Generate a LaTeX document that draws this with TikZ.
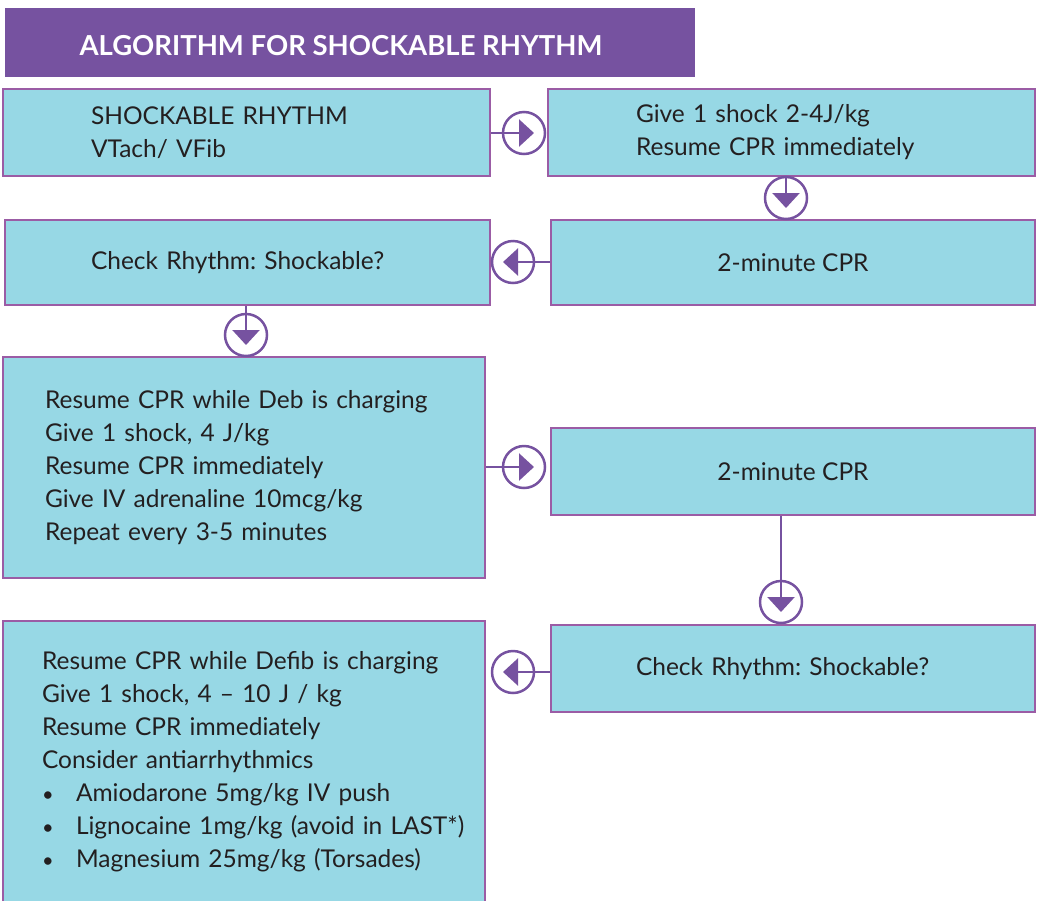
\documentclass[tikz,border=0pt]{standalone}
\usepackage{fontspec}
\setmainfont{Lato}
\frenchspacing
\usetikzlibrary{arrows.meta}
\definecolor{boxblue}{RGB}{151,216,229}
\definecolor{boxedge}{RGB}{155,92,165}
\definecolor{headpurple}{RGB}{118,82,160}
\definecolor{ink}{RGB}{35,31,32}
\newcommand{\dotitem}{\makebox[34pt][l]{\fontsize{20}{33}\selectfont\textbullet}}
\tikzset{
  stepbox/.style={draw=boxedge,fill=boxblue,line width=2pt,text=ink,rectangle,align=left,
    font=\fontsize{24.5}{33}\selectfont},
  turn/.style={draw=headpurple,circle,line width=2.5pt,minimum size=42pt,inner sep=0pt},
  link/.style={draw=headpurple,line width=2.5pt,-{Triangle[length=15pt,width=27pt]}}
}
\begin{document}
\begin{tikzpicture}[x=1pt,y=-1pt]
\useasboundingbox (0,0) rectangle (1038,900);
% heading
\node[fill=headpurple,minimum width=690pt,minimum height=69pt,inner sep=0pt] (head) at (350,42.5) {};
\node[text=white,anchor=west,font=\fontsize{27.5}{30}\selectfont\bfseries] (headtxt) at (76,46) {ALGORITHM FOR SHOCKABLE RHYTHM};
% boxes
\node[stepbox,minimum width=487pt,minimum height=87pt,text width=311pt,inner xsep=88pt] (rhythm) at (246.5,132.5)
  {SHOCKABLE RHYTHM\\VTach/ VFib};
\node[stepbox,minimum width=487pt,minimum height=87pt,text width=311pt,inner xsep=88pt] (shock) at (791.5,132.5)
  {Give 1 shock 2-4J/kg\\Resume CPR immediately};
\node[stepbox,minimum width=485pt,minimum height=85pt,text width=313pt,inner xsep=86pt] (check) at (247.5,262.5)
  {Check Rhythm: Shockable?};
\node[stepbox,minimum width=484pt,minimum height=85pt,align=center] (cpra) at (793,262.5)
  {2-minute CPR};
\node[stepbox,minimum width=482pt,minimum height=221pt,text width=398pt,inner xsep=42pt] (second) at (244,467.5)
  {Resume CPR while Deb is charging\\Give 1 shock, 4 J/kg\\Resume CPR immediately\\Give IV adrenaline 10mcg/kg\\Repeat every 3-5 minutes};
\node[stepbox,minimum width=484pt,minimum height=87pt,align=center] (cprb) at (793,471.5)
  {2-minute CPR};
\node[stepbox,minimum width=484pt,minimum height=87pt,text width=314pt,inner xsep=85pt] (checkb) at (793,668.5)
  {Check Rhythm: Shockable?};
\node[stepbox,minimum width=482pt,minimum height=282pt,text width=404pt,inner xsep=39pt] (third) at (244,762)
  {\mbox{Resume CPR while Defib is charging}\\Give 1 shock, 4 -- 10 J / kg\\Resume CPR immediately\\Consider antiarrhythmics\\
   \dotitem Amiodarone 5mg/kg IV push\\
   \mbox{\dotitem Lignocaine 1mg/kg (avoid in LAST*)}\\
   \dotitem Magnesium 25mg/kg (Torsades)};
% turns
\node[turn] (t1) at (524,133) {};
\node[turn] (t2) at (786,198) {};
\node[turn] (t3) at (513,262) {};
\node[turn] (t4) at (246,335) {};
\node[turn] (t5) at (524,467) {};
\node[turn] (t6) at (781,602) {};
\node[turn] (t7) at (513,672) {};
\draw[link] (rhythm.east |- t1) -- ([xshift=10pt]t1.center);
\draw[link] (t2 |- shock.south) -- ([yshift=-10pt]t2.center);
\draw[link] (cpra.west |- t3) -- ([xshift=-10pt]t3.center);
\draw[link] (t4 |- check.south) -- ([yshift=-10pt]t4.center);
\draw[link] (second.east |- t5) -- ([xshift=10pt]t5.center);
\draw[link] (t6 |- cprb.south) -- ([yshift=-10pt]t6.center);
\draw[link] (checkb.west |- t7) -- ([xshift=-10pt]t7.center);
\end{tikzpicture}
\end{document}
